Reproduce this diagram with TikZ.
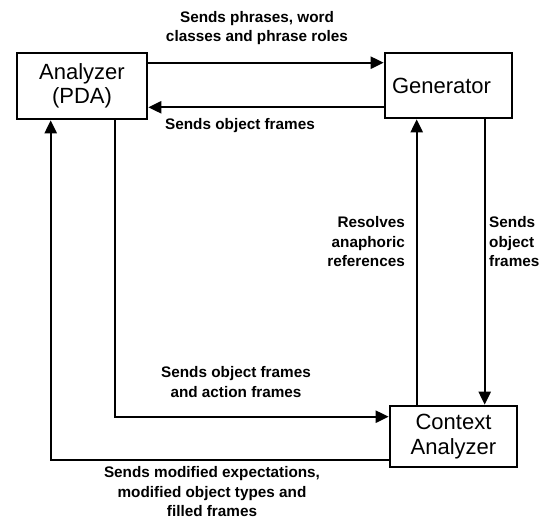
\documentclass[tikz,border=0pt]{standalone}
\usepackage{fontspec}
\setmainfont{Liberation Sans}
\usetikzlibrary{arrows.meta}
\begin{document}
\begin{tikzpicture}[x=1pt,y=-1pt,
  box/.style={draw,line width=2.6pt,inner sep=0pt,align=center,
    font=\fontsize{22}{24.5}\selectfont},
  lbl/.style={inner sep=0pt,font=\fontsize{15.3}{19.5}\selectfont\bfseries},
  arr/.style={line width=2.2pt,-{Triangle[length=13pt,width=12pt]}}]
\useasboundingbox (0,0) rectangle (542,519);
\node[box,minimum width=130pt,minimum height=66pt] (ana) at (82,86) {Analyzer\\(PDA)};
\node[box,text width=113pt,inner xsep=7pt,align=left,minimum height=65pt] (gen) at (448.5,85.5) {Generator};
\node[box,minimum width=127pt,minimum height=61pt] (ctx) at (453.5,436.5) {Context\\Analyzer};
% connectors
\draw[arr] ([yshift=-11pt]ana.north east) -- ([yshift=-11pt]ana.north east -| gen.west);
\draw[arr] ([yshift=12pt]gen.south west) -- ([yshift=12pt]gen.south west -| ana.east);
\draw[arr] ([yshift=8pt]ctx.south west) -| ([xshift=35pt]ana.south west);
\draw[arr] ([xshift=99pt]ana.south west) |- ([yshift=-12pt]ctx.north west);
\draw[arr] ([xshift=28pt]ctx.north west) -- ([xshift=28pt]ctx.north west |- gen.south);
\draw[arr] ([xshift=101pt]gen.south west) -- ([xshift=101pt]gen.south west |- ctx.north);
% labels
\node[lbl,align=center] (l1) at (257,28) {Sends phrases, word\\classes and phrase roles};
\node[lbl,align=center] (l2) at (240,126) {Sends object frames};
\node[lbl,align=right,anchor=east] (l3) at (405,242) {Resolves\\anaphoric\\references};
\node[lbl,align=left,anchor=west] (l4) at (489,242) {Sends\\object\\frames};
\node[lbl,align=center] (l5) at (236,382) {Sends object frames\\and action frames};
\node[lbl,align=center] (l6) at (212,492) {Sends modified expectations,\\modified object types and\\filled frames};
\end{tikzpicture}
\end{document}
